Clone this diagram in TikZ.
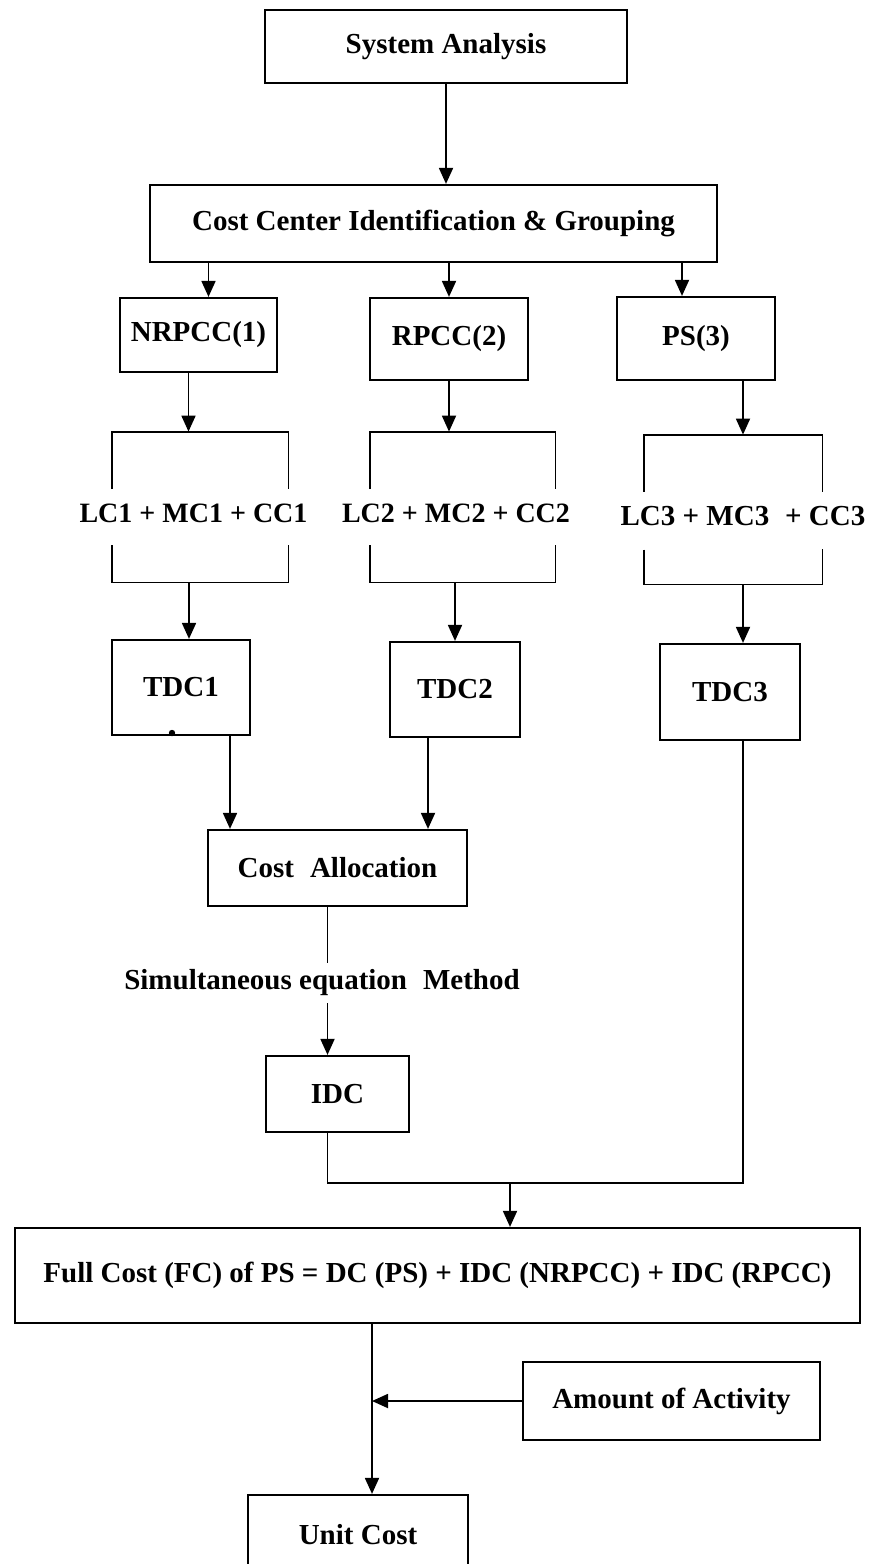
\documentclass[tikz,border=0pt]{standalone}
\usepackage{fontspec}
\setmainfont{Liberation Serif}
\usetikzlibrary{arrows.meta,positioning}

\begin{document}
\begin{tikzpicture}[
    x=0.5pt,y=-0.5pt,
    font=\fontsize{14.5}{17}\selectfont\bfseries,
    box/.style={draw,line width=1.1pt,inner sep=0pt,align=center},
    brk/.style={inner sep=0pt},
    >={Triangle[length=8pt,width=7pt]},
    arr/.style={->,line width=0.9pt},
    lin/.style={line width=0.9pt}
  ]
  \useasboundingbox (0,0) rectangle (870,1564);

  \node[box,minimum width=181pt,minimum height=36.5pt]   (sys)   at (446,46.5)   {System Analysis};
  \node[box,minimum width=283.5pt,minimum height=38.5pt] (ccig)  at (433.5,223.5) {Cost Center Identification \& Grouping};
  \node[box,minimum width=78.5pt,minimum height=37pt]    (nrpcc) at (198.5,335)  {NRPCC(1)};
  \node[box,minimum width=79pt,minimum height=41pt]      (rpcc)  at (449,339)    {RPCC(2)};
  \node[box,minimum width=79pt,minimum height=41.5pt]    (ps)    at (696,338.5)  {PS(3)};

  % open brackets round the cost sums
  \node[brk,minimum width=88pt,minimum height=75pt]   (br1) at (200,507) {};
  \node[brk,minimum width=92.5pt,minimum height=75pt] (br2) at (462.5,507) {};
  \node[brk,minimum width=89pt,minimum height=74.5pt] (br3) at (733,509.5) {};
  \node[font=\fontsize{14}{17}\selectfont\bfseries] (lc1) at (193.5,513) {LC1 + MC1 + CC1};
  \node[font=\fontsize{14}{17}\selectfont\bfseries] (lc2) at (456,513) {LC2 + MC2 + CC2};
  \node (lc3) at (743,516) {LC3 + MC3\hspace{0.3em} + CC3};
  \draw[lin] (br1.west) ++(0,-18) |- (br1.north east) -- ++(0,57);
  \draw[lin] (br1.west) ++(0,38) |- (br1.south east) -- ++(0,-37);
  \draw[lin] (br2.west) ++(0,-18) |- (br2.north east) -- ++(0,57);
  \draw[lin] (br2.west) ++(0,38) |- (br2.south east) -- ++(0,-37);
  \draw[lin] (br3.west) ++(0,-18) |- (br3.north east) -- ++(0,57);
  \draw[lin] (br3.west) ++(0,40) |- (br3.south east) -- ++(0,-35);

  \node[box,minimum width=69pt,minimum height=47.5pt]  (tdc1) at (181,687.5) {TDC1};
  \node[box,minimum width=65pt,minimum height=47.5pt]  (tdc2) at (455,689.5) {TDC2};
  \node[box,minimum width=70pt,minimum height=48pt]    (tdc3) at (730,692)   {TDC3};
  \fill (172,733) circle (1.6pt);

  \node[box,minimum width=129.5pt,minimum height=38pt] (ca)   at (337.5,868)  {Cost\hspace{0.3em} Allocation};
  \node (meth) at (322,983) {Simultaneous equation\hspace{0.3em} Method};
  \node[box,minimum width=71.5pt,minimum height=38pt]  (idc)  at (337.5,1094) {IDC};
  \coordinate (jn) at (510,1183);

  \node[box,minimum width=422.5pt,minimum height=47.5pt] (full) at (437.5,1275.5)
       {Full Cost (FC) of PS = DC (PS) + IDC (NRPCC) + IDC (RPCC)};
  \node[box,minimum width=148.5pt,minimum height=39pt] (amt)  at (671.5,1401) {Amount of Activity};
  \node[box,minimum width=110pt,minimum height=40pt]   (unit) at (358,1535)   {Unit Cost};
  \coordinate (dn) at ([xshift=7pt]unit.north);

  \draw[arr] (sys.south) -- (sys.south |- ccig.north);
  \draw[arr] ([xshift=5pt]nrpcc.north |- ccig.south) -- ([xshift=5pt]nrpcc.north);
  \draw[arr] (rpcc.north |- ccig.south) -- (rpcc.north);
  \draw[arr] ([xshift=-7pt]ps.north |- ccig.south) -- ([xshift=-7pt]ps.north);

  \draw[arr] ([xshift=-5pt]nrpcc.south) -- ([xshift=-5pt]nrpcc.south |- br1.north);
  \draw[arr] (rpcc.south) -- (rpcc.south |- br2.north);
  \draw[arr] ([xshift=23.5pt]ps.south) -- ([xshift=23.5pt]ps.south |- br3.north);

  \draw[arr] ([xshift=4pt]tdc1.north |- br1.south) -- ([xshift=4pt]tdc1.north);
  \draw[arr] (tdc2.north |- br2.south) -- (tdc2.north);
  \draw[arr] ([xshift=6.5pt]tdc3.north |- br3.south) -- ([xshift=6.5pt]tdc3.north);

  \draw[arr] ([xshift=24.5pt]tdc1.south) -- ([xshift=24.5pt]tdc1.south |- ca.north);
  \draw[arr] ([xshift=-13.5pt]tdc2.south) -- ([xshift=-13.5pt]tdc2.south |- ca.north);

  % allocation method, then on to IDC
  \draw[lin] ([xshift=-5pt]ca.south) -- ([xshift=-5pt]ca.south |- meth.north);
  \draw[arr] ([xshift=-5pt]idc.north |- meth.south) -- ([xshift=-5pt]idc.north);

  \draw[lin] ([xshift=-5pt]idc.south) |- ([xshift=6.5pt]tdc3.south |- jn) -- ([xshift=6.5pt]tdc3.south);
  \draw[arr] (jn) -- (jn |- full.north);

  \draw[arr] (dn |- full.south) -- (dn);
  \draw[arr] (amt.west) -- (amt.west -| dn);
\end{tikzpicture}
\end{document}
